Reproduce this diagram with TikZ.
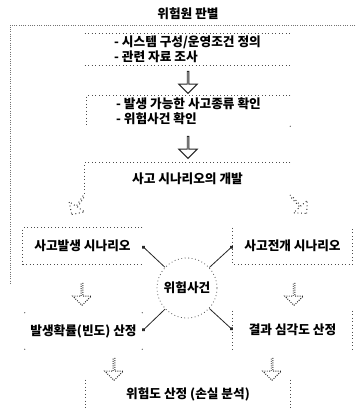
\documentclass[tikz,border=0pt]{standalone}
\usepackage{fontspec}
\setmainfont{Noto Sans CJK KR}
\usetikzlibrary{shapes.arrows, arrows.meta}

\tikzset{
    % Text styles
    heading/.style={
        font=\bfseries\fontsize{9.5}{11}\selectfont
    },
    stage/.style={
        rectangle,
        inner sep=0pt,
        align=center,
        font=\bfseries\fontsize{9.5}{11.5}\selectfont
    },
    % Partial dotted borders
    edge/.style={
        draw=black!70,
        line width=0.6pt,
        dotted
    },
    frame/.style={
        draw=black!55,
        line width=0.7pt,
        densely dotted
    },
    % Hollow block arrows
    flowarrow/.style={
        single arrow,
        draw=black!85,
        line width=0.7pt,
        inner sep=0pt,
        minimum height=16.5pt,
        minimum width=14pt,
        single arrow head extend=3.8pt
    },
    % Event links
    link/.style={
        line width=0.6pt,
        draw=black!85,
        -{Circle[length=2.6pt]}
    },
    event/.style={
        circle,
        edge,
        minimum size=45pt,
        inner sep=0pt,
        font=\bfseries\fontsize{9.5}{11}\selectfont
    }
}

\begin{document}
\begin{tikzpicture}[x=0.75pt, y=-0.75pt]
    \useasboundingbox (0,0) rectangle (355,409);

    % Title and outer frame
    \node[heading] (title) at (188,14) {위험원 판별};
    \coordinate (frame) at (10,25);
    \draw[frame] (355,25) -- (frame) -- ++(0,258);

    % Upper stages
    \node[stage, align=left, minimum width=153.75pt, minimum height=23.25pt] (b1) at (187.5,49.5)
        {- 시스템 구성/운영조건 정의\\- 관련 자료 조사};
    \draw[edge] (b1.north west) -- (b1.north east);
    \draw[edge] (b1.south west) -- (b1.south east);

    \node[stage, align=left, minimum width=152.25pt, minimum height=22.5pt] (b2) at (188.5,111)
        {- 발생 가능한 사고종류 확인\\- 위험사건 확인};
    \draw[edge] (b2.north east) -- (b2.north west) -- (b2.south west);

    \node[stage, minimum width=153.75pt, minimum height=24pt] (b3) at (187.5,179) {사고 시나리오의 개발};
    \draw[edge] (b3.north east) -- (b3.north west) -- (b3.south west);

    % Scenario boxes
    \node[stage, minimum width=89.25pt, minimum height=27pt] (lbox) at (82.5,246) {사고발생 시나리오};
    \draw[edge] (lbox.north east) -- (lbox.north west) -- (lbox.south west) -- (lbox.south east);

    \node[stage, minimum width=89.25pt, minimum height=27pt] (rbox) at (292.5,246) {사고전개 시나리오};
    \draw[edge] (rbox.north west) -- (rbox.south west) -- (rbox.south east) -- (rbox.north east);

    \node[event] (ev) at (187,288) {위험사건};

    % Estimation boxes
    \node[stage, minimum width=87.75pt, minimum height=27pt] (lbot) at (83.5,331) {발생확률(빈도) 산정};
    \node[stage, minimum width=89.25pt, minimum height=28.5pt] (rbot) at (292.5,330) {결과 심각도 산정};
    \draw[edge] (rbot.north west) -- (rbot.south west);
    \draw[edge] (rbot.north east) -- (rbot.south east);

    \node[stage, minimum width=153pt, minimum height=21.75pt] (risk) at (188,394.5) {위험도 산정 (손실 분석)};
    \draw[edge] (risk.north west) -- (risk.south west);
    \draw[edge] (risk.north east) -- (risk.south east);

    % Loose corner dots
    \foreach \c in {lbot.north west, lbot.north east, lbot.south west, lbot.south east, b2.south east, b3.south east}
        \fill[black!70] (\c) circle (0.5pt);

    % Flow arrows
    \node[flowarrow, rotate=-90] (a1) at (188,82) {};
    \node[flowarrow, rotate=-90] (a2) at (188,147) {};
    \node[flowarrow, dotted, rotate=-123] (a3) at (78,205) {};
    \node[flowarrow, dotted, rotate=-48] (a4) at (299,205) {};
    \node[flowarrow, densely dotted, rotate=-90] (a5) at (82,294) {};
    \node[flowarrow, densely dotted, rotate=-90] (a6) at (294,294) {};
    \node[flowarrow, densely dotted, rotate=-90] (a7) at (114,369) {};
    \node[flowarrow, densely dotted, rotate=-90] (a8) at (272,369) {};

    % Links from the event
    \draw[link] (ev) -- (lbox.east);
    \draw[link] (ev) -- (rbox.west);
    \draw[link] (ev) -- (lbot.east);
    \draw[link] (ev) -- (rbot.west);
\end{tikzpicture}
\end{document}
